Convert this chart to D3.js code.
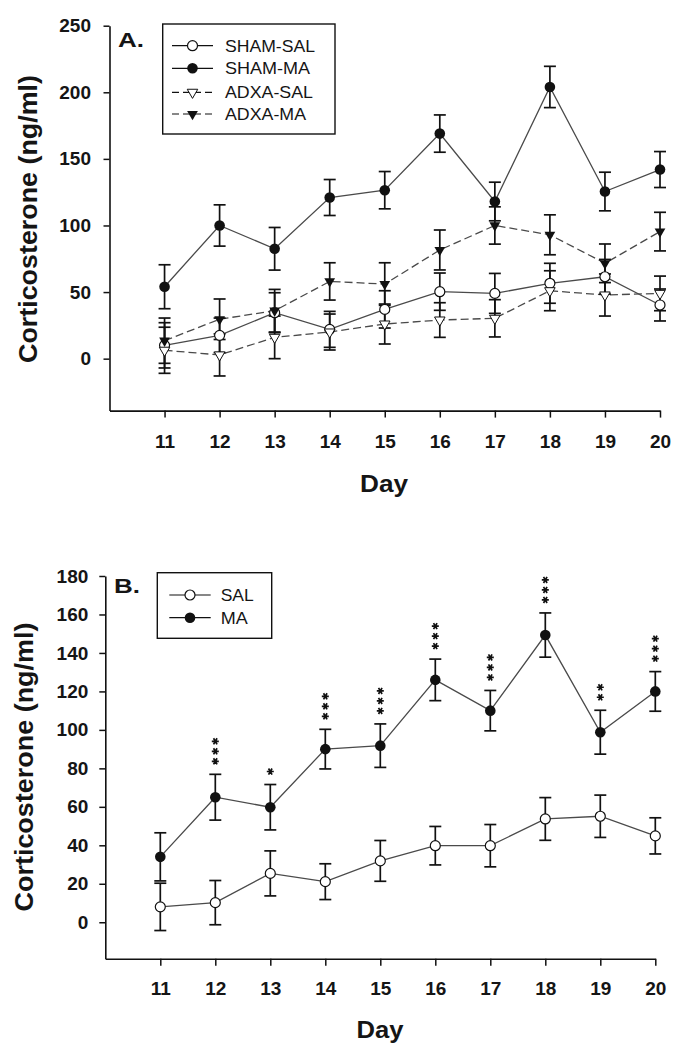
<!DOCTYPE html>
<html><head><meta charset="utf-8">
<script src="https://cdn.jsdelivr.net/npm/d3@7"></script>
<style>
body{margin:0;background:#fff}
text{font-family:"Liberation Sans",Arial,Helvetica,sans-serif;fill:#151515}
</style>
</head><body>
<svg id="c" width="689" height="1050"></svg>
<script>
// ---------- data ----------
const days = [11, 12, 13, 14, 15, 16, 17, 18, 19, 20];
// Panel A
const shamSal   = [10, 17.5, 34.5, 22, 37, 50.3, 49, 56.6, 61.5, 40.3];
const shamSalSE = [17, 13, 15, 13.5, 14, 14, 15, 15, 13, 12];
const shamMa    = [54, 100, 82.5, 121, 126.5, 169, 118, 204, 125.5, 142];
const shamMaSE  = [16.5, 15.5, 16, 13.5, 14, 14, 14.5, 15.5, 14.5, 13.5];
const adxaSal   = [6.3, 2.8, 16, 20, 26, 29, 30.3, 51, 47.8, 49];
const adxaSalSE = [17.3, 15.8, 16, 13.5, 15, 13, 14, 15, 15.8, 13];
const adxaMa    = [13.5, 29.6, 36, 58, 56, 81.6, 100, 93, 71.6, 95.4];
const adxaMaSE  = [17, 15.2, 16, 14, 16, 15, 14, 15, 14.5, 14.5];
// Panel B
const sal   = [8, 10.2, 25.4, 21.1, 31.9, 39.8, 39.8, 53.7, 55.1, 44.9];
const salSE = [12.3, 11.5, 11.7, 9.3, 10.6, 10, 11, 11.1, 11, 9.4];
const ma    = [34, 65, 59.8, 90, 91.8, 126, 110, 149.3, 98.8, 120];
const maSE  = [12.5, 11.9, 11.8, 10.3, 11.3, 10.8, 10.5, 11.5, 11.4, 10.3];
const sig   = ["", "***", "*", "***", "***", "***", "***", "***", "**", "***"];
// ticks / labels
const ticksA = [0, 50, 100, 150, 200, 250];
const ticksB = [0, 20, 40, 60, 80, 100, 120, 140, 160, 180];
const legendA = ["SHAM-SAL", "SHAM-MA", "ADXA-SAL", "ADXA-MA"];
const legendB = ["SAL", "MA"];
const yTitle = "Corticosterone (ng/ml)";
const xTitle = "Day";

// ---------- drawing ----------
const svg = d3.select("#c");
const LINE = "#4a4a4a", INK = "#111";

const markers = {
  openCircle:  g => g.append("circle").attr("r", 5).attr("fill", "#fff").attr("stroke", INK).attr("stroke-width", 1.2),
  fillCircle:  g => g.append("circle").attr("r", 5.3).attr("fill", INK),
  openTri:     g => g.append("path").attr("d", d3.symbol(d3.symbolTriangle, 48)()).attr("transform", "rotate(180)").attr("fill", "#fff").attr("stroke", INK).attr("stroke-width", 1),
  fillTri:     g => g.append("path").attr("d", d3.symbol(d3.symbolTriangle, 50)()).attr("transform", "rotate(180)").attr("fill", INK)
};

function drawPanel(cfg) {
  const { x, y, ticks, yPad, xLabelDy, series } = cfg;
  const x0 = x.range()[0], yBase = y.range()[0];

  // axes
  const ya = svg.append("g").attr("transform", `translate(${x0},0)`)
    .call(d3.axisLeft(y).tickValues(ticks).tickSize(6).tickSizeOuter(0).tickPadding(yPad));
  const xa = svg.append("g").attr("transform", `translate(0,${yBase})`)
    .call(d3.axisBottom(x).tickValues(days).tickSize(7).tickSizeOuter(0));
  [ya, xa].forEach(a => {
    a.select(".domain").attr("stroke", INK).attr("stroke-width", 1.6);
    a.selectAll(".tick line").attr("stroke", INK).attr("stroke-width", 1.5);
    a.selectAll(".tick text").attr("font-size", 19).attr("font-weight", "bold").attr("fill", "#1a1a1a");
  });
  xa.selectAll(".tick text").attr("dy", null).attr("y", xLabelDy);

  // lines
  const line = d3.line().x((d, i) => x(days[i])).y(d => y(d));
  series.forEach(s => {
    svg.append("path").datum(s.vals).attr("d", line).attr("fill", "none")
      .attr("stroke", LINE).attr("stroke-width", 1.3)
      .attr("stroke-dasharray", s.dashed ? "8,4" : null);
  });
  // error bars
  series.forEach(s => {
    const g = svg.append("g").attr("stroke", INK).attr("stroke-width", 1.7).attr("fill", "none");
    s.vals.forEach((v, i) => {
      const cx = x(days[i]), t = y(v + s.se[i]), b = y(v - s.se[i]);
      g.append("line").attr("x1", cx).attr("x2", cx).attr("y1", t).attr("y2", b);
      g.append("line").attr("x1", cx - 6).attr("x2", cx + 6).attr("y1", t).attr("y2", t);
      g.append("line").attr("x1", cx - 6).attr("x2", cx + 6).attr("y1", b).attr("y2", b);
    });
  });
  // markers
  series.forEach(s => {
    s.vals.forEach((v, i) => {
      const g = svg.append("g").attr("transform", `translate(${x(days[i])},${y(v)})`);
      markers[s.marker](g);
    });
  });
}

function drawLegend(box, items, rows) {
  svg.append("rect").attr("x", box.x).attr("y", box.y).attr("width", box.w).attr("height", box.h)
    .attr("fill", "#fff").attr("stroke", INK).attr("stroke-width", 1.4);
  items.forEach((it, i) => {
    const cy = rows[i];
    svg.append("line").attr("x1", box.lx1).attr("x2", box.lx2).attr("y1", cy).attr("y2", cy)
      .attr("stroke", INK).attr("stroke-width", 1.2).attr("stroke-dasharray", it.dashed ? "7,4" : null);
    const g = svg.append("g").attr("transform", `translate(${(box.lx1 + box.lx2) / 2},${cy})`);
    markers[it.marker](g);
    svg.append("text").attr("x", box.tx).attr("y", cy + 6).attr("font-size", 16.5)
      .attr("textLength", it.w).attr("lengthAdjust", "spacingAndGlyphs").text(it.label);
  });
}

// ---- Panel A ----
const xA = d3.scaleLinear().domain([10, 20]).range([109.5, 660]);
const yA = d3.scaleLinear().domain([-39, 250]).range([410.6, 25.7]);
drawPanel({
  x: xA, y: yA, ticks: ticksA, yPad: 12.5, xLabelDy: 37.7,
  series: [
    { vals: shamSal, se: shamSalSE, marker: "openCircle", dashed: false },
    { vals: adxaSal, se: adxaSalSE, marker: "openTri", dashed: true },
    { vals: adxaMa,  se: adxaMaSE,  marker: "fillTri", dashed: true },
    { vals: shamMa,  se: shamMaSE,  marker: "fillCircle", dashed: false }
  ]
});
drawLegend({ x: 162.7, y: 24, w: 172.3, h: 110, lx1: 172, lx2: 213, tx: 225 }, [
  { label: legendA[0], marker: "openCircle", dashed: false, w: 90 },
  { label: legendA[1], marker: "fillCircle", dashed: false, w: 85 },
  { label: legendA[2], marker: "openTri", dashed: true, w: 88 },
  { label: legendA[3], marker: "fillTri", dashed: true, w: 81 }
], [45.7, 68.3, 92.3, 114]);
svg.append("text").attr("x", 118).attr("y", 47).attr("font-size", 21).attr("font-weight", "bold")
  .attr("textLength", 26).attr("lengthAdjust", "spacingAndGlyphs").text("A.");
svg.append("text").attr("transform", "translate(37,219) rotate(-90)").attr("text-anchor", "middle")
  .attr("font-size", 26).attr("font-weight", "bold").attr("textLength", 288).attr("lengthAdjust", "spacingAndGlyphs").text(yTitle);
svg.append("text").attr("x", 384).attr("y", 491.5).attr("text-anchor", "middle").attr("font-size", 23)
  .attr("font-weight", "bold").attr("textLength", 48).attr("lengthAdjust", "spacingAndGlyphs").text(xTitle);

// ---- Panel B ----
const xB = d3.scaleLinear().domain([10, 20]).range([105.3, 655.3]);
const yB = d3.scaleLinear().domain([-19, 180]).range([958.8, 576]);
drawPanel({
  x: xB, y: yB, ticks: ticksB, yPad: 11, xLabelDy: 36.7,
  series: [
    { vals: sal, se: salSE, marker: "openCircle", dashed: false },
    { vals: ma,  se: maSE,  marker: "fillCircle", dashed: false }
  ]
});
// significance asterisks
const star = d3.symbol(d3.symbolAsterisk, 34)();
sig.forEach((s, i) => {
  const top = yB(ma[i] + maSE[i]);
  for (let k = 0; k < s.length; k++) {
    svg.append("path").attr("d", star)
      .attr("transform", `translate(${xB(days[i])},${top - 13 - k * 10}) rotate(90)`)
      .attr("fill", "none").attr("stroke", INK).attr("stroke-width", 1.7);
  }
});
drawLegend({ x: 157.3, y: 572.7, w: 114.4, h: 65.6, lx1: 169.3, lx2: 210.7, tx: 220.7 }, [
  { label: legendB[0], marker: "openCircle", dashed: false, w: 33 },
  { label: legendB[1], marker: "fillCircle", dashed: false, w: 27 }
], [595, 617.7]);
svg.append("text").attr("x", 114).attr("y", 593).attr("font-size", 21).attr("font-weight", "bold")
  .attr("textLength", 26).attr("lengthAdjust", "spacingAndGlyphs").text("B.");
svg.append("text").attr("transform", "translate(33,767) rotate(-90)").attr("text-anchor", "middle")
  .attr("font-size", 26).attr("font-weight", "bold").attr("textLength", 289).attr("lengthAdjust", "spacingAndGlyphs").text(yTitle);
svg.append("text").attr("x", 380).attr("y", 1038).attr("text-anchor", "middle").attr("font-size", 23)
  .attr("font-weight", "bold").attr("textLength", 47).attr("lengthAdjust", "spacingAndGlyphs").text(xTitle);
</script>
</body></html>
